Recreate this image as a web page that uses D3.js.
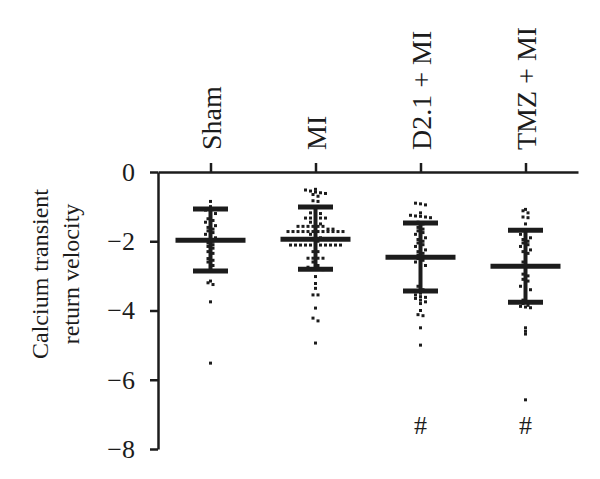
<!DOCTYPE html>
<html>
<head>
<meta charset="utf-8">
<script src="https://cdn.jsdelivr.net/npm/d3@7"></script>
<style>
  body { margin: 0; background: #fff; }
  svg { display: block; font-family: "Liberation Serif", "DejaVu Serif", serif; }
</style>
</head>
<body>
<svg width="600" height="479"></svg>
<script>
// groups on the x axis
var groups = ["Sham", "MI", "D2.1 + MI", "TMZ + MI"];
var yTicks = [0, -2, -4, -6, -8];

// mean and SD bar ends, per group
var means = [-1.97, -1.94, -2.46, -2.72];
var sdTop = [-1.07, -1.01, -1.47, -1.68];
var sdBottom = [-2.86, -2.81, -3.44, -3.76];

// individual cells
var shamValues = [-0.85, -1.0, -1.1, -1.15, -1.2, -1.3, -1.35, -1.4, -1.45, -1.5, -1.55, -1.6,
  -1.65, -1.7, -1.75, -1.8, -1.85, -1.9, -1.95, -2.0, -2.05, -2.1, -2.15, -2.2, -2.3, -2.35,
  -2.4, -2.5, -2.55, -2.6, -2.7, -2.8, -3.15, -3.2, -3.25, -3.75, -5.52];
var miValues = [-0.5, -0.52, -0.55, -0.58, -0.6, -0.62, -0.65, -0.7, -0.83, -0.85, -1.0, -1.02,
  -1.18, -1.18, -1.2, -1.33, -1.33, -1.33, -1.33, -1.33, -1.45, -1.5, -1.5,
  -1.57, -1.57, -1.57, -1.57, -1.57, -1.57, -1.65, -1.65,
  -1.72, -1.72, -1.72, -1.72, -1.72, -1.72, -1.72, -1.72, -1.72, -1.72, -1.72, -1.72,
  -1.8, -1.85, -1.9, -1.95, -2.0,
  -2.11, -2.11, -2.11, -2.11, -2.11, -2.11, -2.11, -2.11, -2.11, -2.11, -2.11,
  -2.2, -2.3, -2.3, -2.4, -2.49, -2.49, -2.49, -2.49, -2.6,
  -2.7, -2.75, -2.8, -2.8, -2.82, -3.02, -3.22, -3.36, -3.55, -3.55, -3.93, -4.22, -4.3, -4.94];
var d21Values = [-0.9, -0.92, -0.95, -1.18, -1.25, -1.27, -1.28, -1.3, -1.32, -1.45, -1.5, -1.6,
  -1.65, -1.7, -1.75, -1.8, -1.85, -1.9, -1.95, -2.0, -2.05, -2.1, -2.15, -2.2, -2.25, -2.3,
  -2.35, -2.4, -2.45, -2.5, -2.55, -2.6, -2.65, -2.7, -2.8, -2.9, -3.0, -3.1, -3.2, -3.3, -3.4,
  -3.5, -3.55, -3.6, -3.62, -3.65, -3.7, -3.75, -3.8, -4.0, -4.12, -4.15, -4.5, -5.0];
var tmzValues = [-1.08, -1.12, -1.18, -1.3, -1.32, -1.5, -1.75, -1.8, -1.85, -1.9, -1.95, -2.0,
  -2.05, -2.1, -2.15, -2.2, -2.25, -2.3, -2.35, -2.4, -2.5, -2.6, -2.7, -2.8, -2.9, -2.95,
  -3.0, -3.1, -3.15, -3.2, -3.3, -3.35, -3.4, -3.5, -3.6, -3.7, -3.75, -3.8, -3.85, -3.88,
  -3.9, -3.92, -4.5, -4.6, -4.68, -6.58];
var allValues = [shamValues, miValues, d21Values, tmzValues];

// significance marks
var hashGroups = ["D2.1 + MI", "TMZ + MI"];
var hashValue = -7.3;

var svg = d3.select("svg");
var ink = "#1c1c1c";

var x = d3.scalePoint().domain(groups).range([158, 578]).padding(0.5);
var y = d3.scaleLinear().domain([0, -8]).range([172, 449]);

// y axis
var yAxis = svg.append("g")
    .attr("transform", "translate(158,0)")
    .call(d3.axisLeft(y).tickValues(yTicks).tickSize(8).tickSizeOuter(0).tickPadding(15));
yAxis.selectAll("path, line").attr("stroke", ink).attr("stroke-width", 2.5);
yAxis.selectAll("text").attr("font-size", 26).attr("fill", ink).attr("font-family", "Liberation Serif");

// top x axis at zero
var xAxis = svg.append("g")
    .attr("transform", "translate(0," + y(0) + ")")
    .call(d3.axisTop(x).tickSize(9).tickSizeOuter(0).tickPadding(14));
xAxis.selectAll("path, line").attr("stroke", ink).attr("stroke-width", 2.5);
xAxis.selectAll("text")
    .attr("font-size", 28)
    .attr("fill", ink)
    .attr("font-family", "Liberation Serif")
    .attr("transform", "rotate(-90)")
    .attr("text-anchor", "start")
    .attr("x", 22)
    .attr("y", 0)
    .attr("dy", "0.35em");

// y title
var title = svg.append("text")
    .attr("transform", "translate(0,274) rotate(-90)")
    .attr("text-anchor", "middle")
    .attr("font-size", 24)
    .attr("fill", ink);
title.append("tspan").attr("x", 0).attr("y", 48).text("Calcium transient");
title.append("tspan").attr("x", 0).attr("y", 79).text("return velocity");

// column scatter: bin by pixel row, spread each row around the group centre
var binH = 4, gap = 5;
groups.forEach(function(g, gi) {
    var bins = d3.group(allValues[gi], function(v) { return Math.round(y(v) / binH); });
    var pts = [];
    bins.forEach(function(vals) {
        vals.forEach(function(v, k) {
            pts.push({ x: x(g) + (k - (vals.length - 1) / 2) * gap, y: y(v) });
        });
    });
    svg.append("g").selectAll("rect")
        .data(pts)
        .enter().append("rect")
        .attr("x", function(d) { return d.x - 1.5; })
        .attr("y", function(d) { return d.y - 1.5; })
        .attr("width", 3)
        .attr("height", 3)
        .attr("fill", ink);
});

// mean and SD bars
var bars = svg.append("g").attr("stroke", ink);
groups.forEach(function(g, i) {
    var cx = x(g);
    bars.append("line")
        .attr("x1", cx).attr("x2", cx)
        .attr("y1", y(sdTop[i])).attr("y2", y(sdBottom[i]))
        .attr("stroke-width", 4);
    bars.append("line")
        .attr("x1", cx - 35).attr("x2", cx + 35)
        .attr("y1", y(means[i])).attr("y2", y(means[i]))
        .attr("stroke-width", 5);
    [sdTop[i], sdBottom[i]].forEach(function(v) {
        bars.append("line")
            .attr("x1", cx - 17.5).attr("x2", cx + 17.5)
            .attr("y1", y(v)).attr("y2", y(v))
            .attr("stroke-width", 5);
    });
});

// # marks
svg.append("g").selectAll("text")
    .data(hashGroups)
    .enter().append("text")
    .attr("x", function(d) { return x(d); })
    .attr("y", y(hashValue))
    .attr("dy", "0.35em")
    .attr("text-anchor", "middle")
    .attr("font-size", 26)
    .attr("fill", ink)
    .text("#");
</script>
</body>
</html>
